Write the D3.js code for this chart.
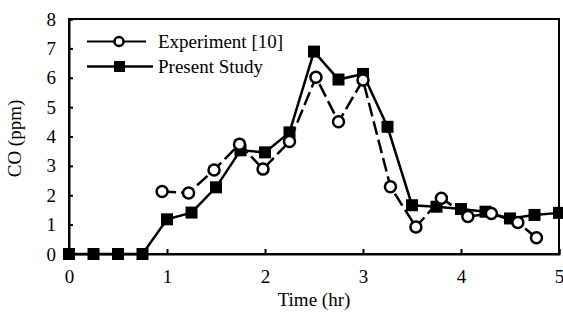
<!DOCTYPE html>
<html>
<head>
<meta charset="utf-8">
<script src="https://cdn.jsdelivr.net/npm/d3@7"></script>
<style>
  html, body { margin: 0; padding: 0; background: #fff; }
  text { font-family: "Liberation Serif", "Times New Roman", serif; fill: #000; }
</style>
</head>
<body>
<svg id="chart" width="563" height="312"></svg>
<script>
// Data
const presentX = [0, 0.25, 0.5, 0.75, 1, 1.25, 1.5, 1.75, 2, 2.25, 2.5, 2.75, 3, 3.25, 3.5, 3.75, 4, 4.25, 4.5, 4.75, 5];
const presentY = [0, 0, 0, 0, 1.18, 1.41, 2.27, 3.53, 3.46, 4.14, 6.89, 5.94, 6.13, 4.33, 1.66, 1.61, 1.53, 1.44, 1.21, 1.33, 1.4];
const expX = [0.95, 1.22, 1.48, 1.74, 1.98, 2.25, 2.52, 2.75, 3.0, 3.28, 3.54, 3.8, 4.07, 4.31, 4.58, 4.77];
const expY = [2.13, 2.08, 2.86, 3.74, 2.89, 3.83, 6.02, 4.5, 5.92, 2.29, 0.92, 1.9, 1.28, 1.38, 1.07, 0.55];
const xTicks = [0, 1, 2, 3, 4, 5];
const yTicks = [0, 1, 2, 3, 4, 5, 6, 7, 8];
const seriesNames = ["Experiment [10]", "Present Study"];
const xTitle = "Time (hr)";
const yTitle = "CO (ppm)";

const svg = d3.select("#chart");
const L = 69, R = 559, T = 19, B = 254;
const FS = 19;
const x = d3.scaleLinear().domain([0, 5]).range([L, R]);
const y = d3.scaleLinear().domain([0, 8]).range([B, T]);

// frame
svg.append("rect").attr("x", L).attr("y", T).attr("width", R - L).attr("height", B - T)
  .attr("fill", "none").attr("stroke", "#000").attr("stroke-width", 2);

// axes
const yAxis = d3.axisLeft(y).tickValues(yTicks).tickSize(-4).tickPadding(13).tickFormat(d3.format("d"));
const gy = svg.append("g").attr("transform", `translate(${L},0)`).call(yAxis);
gy.select(".domain").attr("stroke-width", 2);
gy.selectAll(".tick line").attr("stroke-width", 2);
gy.selectAll(".tick text").attr("font-size", FS).attr("font-family", "Liberation Serif");

const xAxis = d3.axisBottom(x).tickValues(xTicks).tickSize(-5).tickPadding(16).tickFormat(d3.format("d"));
const gx = svg.append("g").attr("transform", `translate(0,${B})`).call(xAxis);
gx.select(".domain").attr("stroke-width", 2);
gx.selectAll(".tick line").attr("stroke-width", 2);
gx.selectAll(".tick text").attr("font-size", FS).attr("font-family", "Liberation Serif");

// titles
svg.append("text").attr("x", (L + R) / 2).attr("y", 306).attr("text-anchor", "middle")
  .attr("font-size", FS).text(xTitle);
svg.append("text").attr("transform", `translate(21,${(T + B) / 2 + 2}) rotate(-90)`)
  .attr("text-anchor", "middle").attr("font-size", FS).text(yTitle);

const line = d3.line().x(d => x(d[0])).y(d => y(d[1]));
const presentData = presentX.map((v, i) => [v, presentY[i]]);
const expData = expX.map((v, i) => [v, expY[i]]);

// present study line
svg.append("path").datum(presentData).attr("d", line)
  .attr("fill", "none").attr("stroke", "#000").attr("stroke-width", 2.5);
// experiment line
svg.append("path").datum(expData).attr("d", line)
  .attr("fill", "none").attr("stroke", "#000").attr("stroke-width", 2.5)
  .attr("stroke-dasharray", "14,5");

const sq = 12;
svg.append("g").selectAll("rect").data(presentData).join("rect")
  .attr("x", d => x(d[0]) - sq / 2).attr("y", d => y(d[1]) - sq / 2)
  .attr("width", sq).attr("height", sq).attr("fill", "#000");

svg.append("g").selectAll("circle").data(expData).join("circle")
  .attr("cx", d => x(d[0])).attr("cy", d => y(d[1])).attr("r", 5.5)
  .attr("fill", "#fff").attr("stroke", "#000").attr("stroke-width", 2.5);

// legend
const lg = svg.append("g");
lg.append("line").attr("x1", 87).attr("x2", 146).attr("y1", 41.5).attr("y2", 41.5)
  .attr("stroke", "#000").attr("stroke-width", 2);
lg.append("circle").attr("cx", 119).attr("cy", 41.5).attr("r", 4.5)
  .attr("fill", "#fff").attr("stroke", "#000").attr("stroke-width", 2.5);
lg.append("text").attr("x", 158).attr("y", 48).attr("font-size", FS).text(seriesNames[0]);

lg.append("line").attr("x1", 87).attr("x2", 153).attr("y1", 66.5).attr("y2", 66.5)
  .attr("stroke", "#000").attr("stroke-width", 2.5);
lg.append("rect").attr("x", 114).attr("y", 61).attr("width", 11).attr("height", 11).attr("fill", "#000");
lg.append("text").attr("x", 158).attr("y", 73).attr("font-size", FS).text(seriesNames[1]);
</script>
</body>
</html>
